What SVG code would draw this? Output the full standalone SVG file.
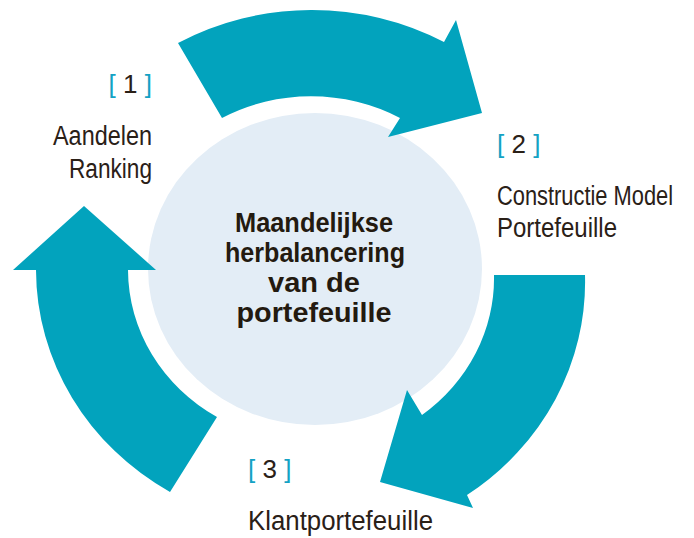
<svg xmlns="http://www.w3.org/2000/svg" width="694" height="538" viewBox="0 0 694 538">
  <style>
    .arrow { fill: #02a3bd; }
    .hub { fill: #e3edf6; }
    .label { font-family: "Liberation Sans", Arial, sans-serif; font-size: 27px; fill: #2a2017; }
    .num { font-family: "Liberation Sans", Arial, sans-serif; font-size: 26px; fill: #2a2017; }
    .br { fill: #14a2c4; }
    .title { font-family: "Liberation Sans", Arial, sans-serif; font-size: 27px; font-weight: bold; fill: #231a10; text-anchor: middle; }
  </style>
  <rect width="694" height="538" fill="#ffffff"/>

  <!-- central hub -->
  <g id="hub">
    <ellipse class="hub" cx="315" cy="269" rx="167" ry="156"/>
    <text class="title" x="314" y="232" textLength="158" lengthAdjust="spacingAndGlyphs">Maandelijkse</text>
    <text class="title" x="315" y="262" textLength="180" lengthAdjust="spacingAndGlyphs">herbalancering</text>
    <text class="title" x="314" y="292" textLength="92" lengthAdjust="spacingAndGlyphs">van de</text>
    <text class="title" x="314" y="322" textLength="155" lengthAdjust="spacingAndGlyphs">portefeuille</text>
  </g>

  <!-- curved cycle arrows -->
  <g id="connectors">
    <path id="arrow-1-2" class="arrow" d="M 178 43 A 274 259 0 0 1 444 42 L 456 20 L 482 113 L 388 137 L 400 118 A 183 172 0 0 0 222 118 Z"/>
    <path id="arrow-2-3" class="arrow" d="M 494 275 L 585 275 A 274 259 0 0 1 467 495 L 473 508 L 380 482 L 407 390 L 422 415 A 183 172 0 0 0 494 275 Z"/>
    <path id="arrow-3-1" class="arrow" d="M 217 417 L 170 492 A 274 259 0 0 1 36 270 L 13 270 L 84 206 L 156 270 L 128 270 A 183 172 0 0 0 217 417 Z"/>
  </g>

  <g id="step-1">
    <text class="num" x="152" y="93" text-anchor="end"><tspan class="br">[</tspan> 1 <tspan class="br">]</tspan></text>
    <text class="label" x="152" y="145" text-anchor="end" textLength="99" lengthAdjust="spacingAndGlyphs">Aandelen</text>
    <text class="label" x="152" y="178" text-anchor="end" textLength="83" lengthAdjust="spacingAndGlyphs">Ranking</text>
  </g>

  <g id="step-2">
    <text class="num" x="497" y="153"><tspan class="br">[</tspan> 2 <tspan class="br">]</tspan></text>
    <!-- narrowed horizontally so the long line stays inside the canvas -->
    <text class="label" transform="translate(497 205) scale(0.81 1)" x="0" y="0">Constructie Model</text>
    <text class="label" x="497" y="237" textLength="120" lengthAdjust="spacingAndGlyphs">Portefeuille</text>
  </g>

  <g id="step-3">
    <text class="num" x="248" y="478"><tspan class="br">[</tspan> 3 <tspan class="br">]</tspan></text>
    <text class="label" x="248" y="530" textLength="185" lengthAdjust="spacingAndGlyphs">Klantportefeuille</text>
  </g>
</svg>
